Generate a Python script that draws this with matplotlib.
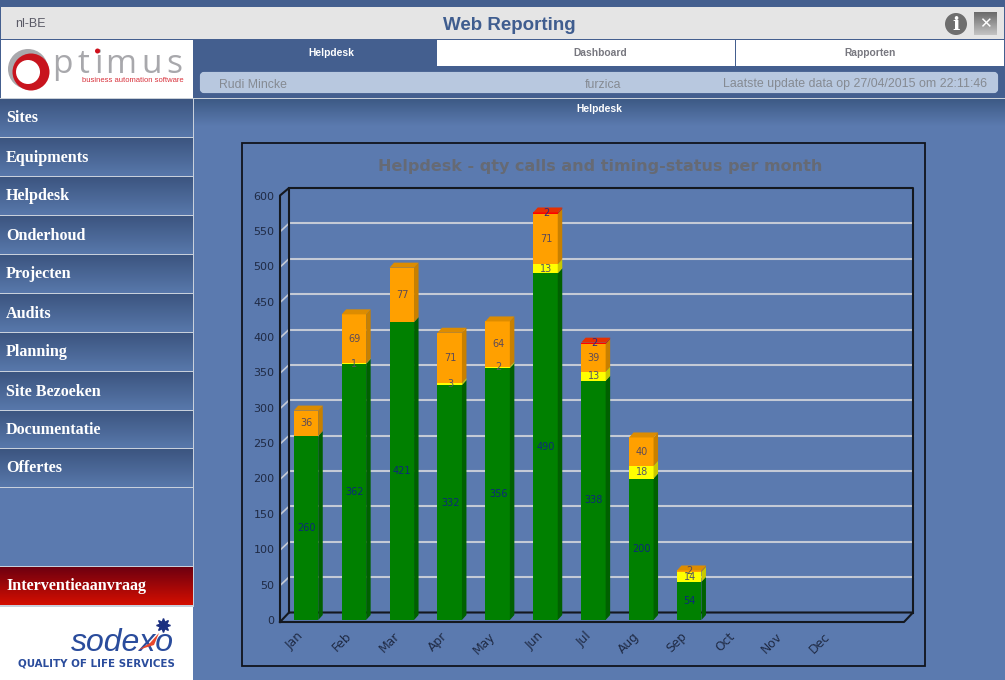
import numpy as np
import matplotlib
matplotlib.use('Agg')
import matplotlib.pyplot as plt
from matplotlib.patches import Rectangle, FancyBboxPatch, Circle, Polygon
from matplotlib.colors import LinearSegmentedColormap
from matplotlib.transforms import ScaledTranslation

months = ['Jan', 'Feb', 'Mar', 'Apr', 'May', 'Jun', 'Jul', 'Aug', 'Sep', 'Oct', 'Nov', 'Dec']
green  = [260, 362, 421, 332, 356, 490, 338, 200, 54]
yellow = [0, 1, 0, 3, 2, 13, 13, 18, 14]
orange = [36, 69, 77, 71, 64, 71, 39, 40, 2]
red    = [0, 0, 0, 0, 0, 2, 2, 0, 0]
yticks = [0, 50, 100, 150, 200, 250, 300, 350, 400, 450, 500, 550, 600]
menu   = ['Sites', 'Equipments', 'Helpdesk', 'Onderhoud', 'Projecten', 'Audits',
          'Planning', 'Site Bezoeken', 'Documentatie', 'Offertes']
menu_y = [99, 138, 177, 216, 255, 294, 333, 372, 410, 449]
logo_letters = ['p', 't', 'i', 'm', 'u', 's']
logo_x = [52, 77, 94, 105, 141, 166]

W, H = 1005, 680
fig = plt.figure(figsize=(W/100, H/100), dpi=100, facecolor='#5b7aaf')

# page furniture, in pixel coordinates
bg = fig.add_axes([0, 0, 1, 1])
bg.set_axis_off()

def grad(x0, y0, x1, y1, c_top, c_bot, zorder=1):
    cmap = LinearSegmentedColormap.from_list('g', [c_top, c_bot])
    bg.imshow(np.linspace(0, 1, 64).reshape(-1, 1), cmap=cmap, extent=(x0, x1, y1, y0),
              aspect='auto', zorder=zorder, interpolation='bilinear')

def box(x0, y0, x1, y1, c, zorder=1):
    bg.add_patch(Rectangle((x0, y0), x1-x0, y1-y0, facecolor=c, edgecolor='none', zorder=zorder))

SANS = 'Liberation Sans'
box(0, 0, W, 7, '#445f8f')
box(0, 7, W, 39, '#445f8f')
box(1, 7, 1004, 39, '#e5e5e5')
box(0, 39, W, 98, '#445f8f')
box(1, 40, 193, 98, 'white')
box(437, 40, 735, 66, 'white')
box(736, 40, 1004, 66, 'white')
bg.add_patch(FancyBboxPatch((202, 74), 794, 17, boxstyle='round,pad=0,rounding_size=2',
                            facecolor='#b8c8df', edgecolor='#b8c8df', linewidth=3, zorder=2))
bg.text(15, 24, 'nl-BE', fontsize=9, family=SANS, color='#5a5a66', va='center', zorder=3)
bg.text(509, 26, 'Web Reporting', fontsize=13.5, family=SANS, weight='bold', color='#3f5d8f',
        ha='center', va='center', zorder=3)
bg.text(331, 53.5, 'Helpdesk', fontsize=7.4, family=SANS, weight='bold', color='white',
        ha='center', va='center', zorder=3)
bg.text(600, 53.5, 'Dashboard', fontsize=7.4, family=SANS, weight='bold', color='#77777f',
        ha='center', va='center', zorder=3)
bg.text(870, 53.5, 'Rapporten', fontsize=7.4, family=SANS, weight='bold', color='#77777f',
        ha='center', va='center', zorder=3)
bg.text(219, 84.5, 'Rudi Mincke', fontsize=8.8, family=SANS, color='#858a92', va='center', zorder=3)
bg.text(603, 84.5, 'furzica', fontsize=8.8, family=SANS, color='#858a92', ha='center', va='center', zorder=3)
bg.text(987, 84.5, 'Laatste update data op 27/04/2015 om 22:11:46', fontsize=8.88, family=SANS,
        color='#858a92', ha='right', va='center', zorder=3)

# info and close icons
bg.add_patch(Circle((956, 24), 11, facecolor='#6e6e6e', edgecolor='none', zorder=3))
bg.text(956, 24.5, 'i', fontsize=14, family='DejaVu Serif', weight='bold', color='white',
        ha='center', va='center', zorder=4)
grad(974, 12, 997, 35, '#6a6a6a', '#c4c4c4', zorder=3)
bg.text(985.5, 23.5, '\u2715', fontsize=11, family='DejaVu Sans', weight='bold', color='white',
        ha='center', va='center', zorder=4)

# content header band
box(194, 98, W, 99, '#c9d0d8', zorder=2)
grad(194, 99, W, 126, '#3d5a85', '#5b7aaf')
bg.text(599, 109, 'Helpdesk', fontsize=7.4, family=SANS, weight='bold', color='white',
        ha='center', va='center', zorder=3)

# side menu
box(0, 98, 194, 99, '#c9d0d8', zorder=2)
for y, name in zip(menu_y, menu):
    grad(0, y, 193, y+38, '#3c5580', '#5878ab')
    box(0, y+38, 193, y+39, '#c8d0dc', zorder=2)
    bg.text(6, y+19.5, name, fontsize=11.6, family='Liberation Serif', weight='bold', color='white',
            va='center', zorder=3)
box(193, 99, 194, 606, '#c8d0dc', zorder=2)
box(0, 566, 193, 567, '#c8d0dc', zorder=2)
grad(0, 567, 193, 605, '#6e0010', '#d40e00')
box(0, 605, 194, 607, '#c8d0dc', zorder=2)
bg.text(6, 586, 'Interventieaanvraag', fontsize=11.6, family='Liberation Serif', weight='bold',
        color='white', va='center', zorder=3)

# optimus logo
bg.add_patch(Circle((28, 69), 20, facecolor='#a9a9ad', edgecolor='none', zorder=3))
bg.add_patch(Circle((31, 72), 18.5, facecolor='#c8141e', edgecolor='none', zorder=4))
bg.add_patch(Circle((28, 72), 12, facecolor='white', edgecolor='none', zorder=5))
for ch, x in zip(logo_letters, logo_x):
    bg.text(x, 73, ch, fontsize=24, family='Open Sans', color='#a8a8ac', va='baseline', zorder=3)
bg.add_patch(Circle((97.5, 51), 2.5, facecolor='#d0101c', edgecolor='none', zorder=4))
bg.text(82, 80.5, 'business automation software', fontsize=5.5, family=SANS, color='#d8323c',
        va='center', zorder=4)

# sodexo logo
box(0, 607, 193, 680, 'white')
bg.text(71, 643, 'sodexo', fontsize=23, family='Liberation Sans', style='italic', color='#2a4c9c',
        va='center', zorder=3)
bg.plot([162.5], [625], marker=(8, 1, 0), markersize=10, color='#1b2f80', zorder=3)
bg.add_patch(Polygon([(138, 650), (150, 643), (159, 633), (154, 645)], facecolor='#e8472c',
                     edgecolor='none', zorder=4))
bg.text(96.5, 664, 'QUALITY OF LIFE SERVICES', fontsize=7.4, family='DejaVu Sans', weight='bold',
        color='#2a4c9c', ha='center', va='center', zorder=3)

# chart frame
bg.add_patch(Rectangle((241.5, 142.5), 683, 523, facecolor='none', edgecolor='#10141c', linewidth=1.3, zorder=5))
bg.text(600, 167, 'Helpdesk - qty calls and timing-status per month', fontsize=11.5, family='DejaVu Sans',
        weight='bold', color='#666a74', ha='center', va='center', zorder=5)
bg.set_xlim(0, W)
bg.set_ylim(H, 0)

# chart itself, front plane of the fake 3d box
px_left, px_right, px_zero, px_top = 280.0, 904.0, 620.0, 195.5
px_x0, px_step = 306.0, 47.9
ax = fig.add_axes([px_left/W, 1-px_zero/H, (px_right-px_left)/W, (px_zero-px_top)/H])
ax.patch.set_alpha(0)
xmin, xmax = (px_left-px_x0)/px_step, (px_right-px_x0)/px_step
ax.set_xlim(xmin, xmax)
ax.set_ylim(0, 600)
for s in ax.spines.values():
    s.set_visible(False)
px_y = 424.5/600

# depth of the walls and of the bars, in data units
wall_dx, wall_dy = 9/px_step, 7.5/px_y
bar_dx, bar_dy = 4.5/px_step, 5/px_y
bar_w = 24.5/px_step
floor = -2/px_y

wall = '#14181f'
for v in yticks[1:-1]:
    ax.plot([xmin+wall_dx, xmax+wall_dx], [v+wall_dy, v+wall_dy], color='#c4cad6', lw=1.5, zorder=1, clip_on=False)
    ax.plot([xmin+0.02, xmin+wall_dx], [v, v+wall_dy], color='#c4cad6', lw=1.2, zorder=1, clip_on=False)
ax.plot([xmin, xmax, xmax+wall_dx, xmin+wall_dx, xmin], [floor, floor, wall_dy, wall_dy, floor], color=wall, lw=1.5, zorder=2, clip_on=False)
ax.plot([xmin, xmin, xmin+wall_dx, xmin+wall_dx], [floor, 600, 600+wall_dy, wall_dy], color=wall, lw=1.5, zorder=2, clip_on=False)
ax.plot([xmin+wall_dx, xmax+wall_dx, xmax+wall_dx], [600+wall_dy, 600+wall_dy, wall_dy], color=wall, lw=1.5, zorder=2, clip_on=False)

# segment colours: front, side, top, label
series = [(green, '#008000', '#006000', '#006000', '#0c2a78'),
          (yellow, '#ffff00', '#c8c800', '#c8c800', '#555566'),
          (orange, '#ffa000', '#c88000', '#dd8c00', '#5c4a58'),
          (red, '#ff0000', '#c82800', '#e63000', '#2a2a80')]
pos = np.arange(len(green))
base = np.zeros(len(green))
totals = np.sum([green, yellow, orange, red], axis=0)
for vals, front, side, top, lab in series:
    vals = np.array(vals)
    ax.bar(pos, vals, bar_w, bottom=base, color=front, zorder=3)
    for i, v in enumerate(vals):
        if v == 0:
            continue
        xr = pos[i]+bar_w/2
        xl = pos[i]-bar_w/2
        b = base[i]
        ax.fill([xr, xr+bar_dx, xr+bar_dx, xr], [b, b+bar_dy, b+v+bar_dy, b+v], color=side, lw=0, zorder=3)
        if b+v == totals[i]:
            ax.fill([xl, xl+bar_dx, xr+bar_dx, xr], [b+v, b+v+bar_dy, b+v+bar_dy, b+v], color=top, lw=0, zorder=3)
    base = base+vals

base = np.zeros(len(green))
for vals, front, side, top, lab in series:
    for i, v in enumerate(vals):
        if v > 0:
            ax.text(pos[i]+0.01, base[i]+v/2, str(v), fontsize=7, color=lab, ha='center', va='center', zorder=6)
    base = base+np.array(vals)

ax.set_yticks(yticks)
ax.set_yticklabels([str(v) for v in yticks])
ax.set_xticks(np.arange(len(months)))
ax.set_xticklabels(months, rotation=45, ha='right', rotation_mode='anchor')
ax.tick_params(axis='both', length=0, labelsize=8, labelcolor='#1f2a44')
ax.tick_params(axis='x', labelsize=8.8, pad=7)
ax.tick_params(axis='y', pad=4)
shift = ScaledTranslation(-9/100, 0, fig.dpi_scale_trans)
for lab in ax.get_xticklabels():
    lab.set_transform(lab.get_transform()+shift)

fig.savefig('out.png', dpi=100, facecolor=fig.get_facecolor())
plt.close()
